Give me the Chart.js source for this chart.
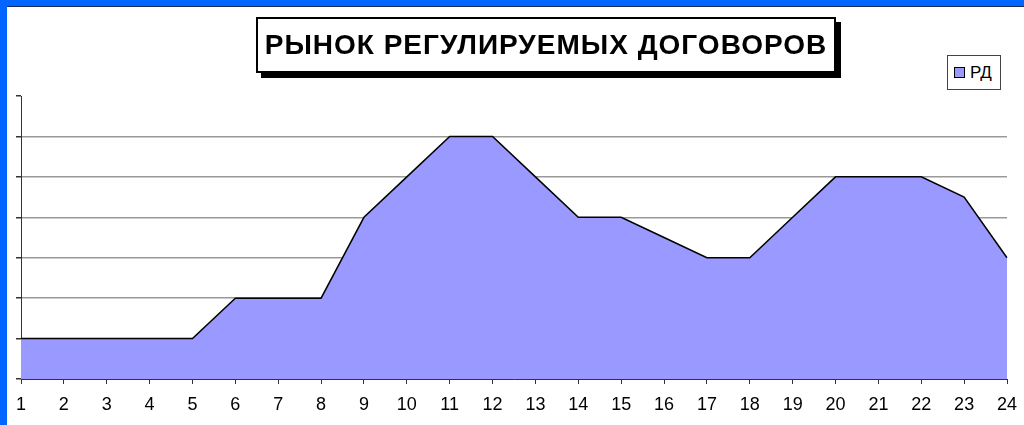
<!DOCTYPE html>
<html>
<head>
<meta charset="utf-8">
<script src="https://cdn.jsdelivr.net/npm/chart.js@4/dist/chart.umd.min.js"></script>
<style>
    body { margin: 0; background: #fff; }
    #frame {
        position: absolute; left: 0; top: 0; width: 1017px; height: 419px;
        border-top: 6px solid #0066ff; border-left: 7px solid #0066ff;
        background: #fff;
    }
    #frame::before {
        content: ''; position: absolute; left: 0; top: 0; right: 0; height: 1px; background: #1a2a60;
    }
    #box { position: absolute; left: 0; top: 0; width: 1017px; height: 419px; }
    #title {
        position: absolute; left: 256px; top: 17px; width: 576px; height: 52px;
        border: 2px solid #000; box-shadow: 5px 5px 0 #000; background: #fff;
        font: bold 28px "Liberation Sans", Arial, sans-serif; line-height: 52px;
        letter-spacing: 1px; text-align: center; color: #000;
    }
    #legend {
        position: absolute; left: 947px; top: 55px; width: 52px; height: 33px;
        border: 1px solid #444; background: #fff;
        font: 17px "Liberation Sans", Arial, sans-serif; line-height: 33px; color: #000;
    }
    #legend span.sw {
        position: absolute; left: 6px; top: 11px; width: 9px; height: 9px;
        background: #9999ff; border: 1px solid #000;
    }
    #legend span.tx { position: absolute; left: 22px; top: 0; }
</style>
</head>
<body>
<div id="frame"><div id="box"><canvas id="chart"></canvas></div></div>
<div id="title">РЫНОК РЕГУЛИРУЕМЫХ ДОГОВОРОВ</div>
<div id="legend"><span class="sw"></span><span class="tx">РД</span></div>
<script>
// Hours of the day and the regulated contracts series
const hours = ['1', '2', '3', '4', '5', '6', '7', '8', '9', '10', '11', '12',
    '13', '14', '15', '16', '17', '18', '19', '20', '21', '22', '23', '24'];
const rdValues = [1, 1, 1, 1, 1, 2, 2, 2, 4, 5, 6, 6, 5, 4, 4, 3.5, 3, 3, 4, 5, 5, 5, 4.5, 3];
const yMax = 7;

const ctx = document.getElementById('chart').getContext('2d');

new Chart(ctx, {
    type: 'line',
    data: {
        labels: hours,
        datasets: [{
            label: 'РД',
            data: rdValues,
            fill: 'origin',
            backgroundColor: '#9999ff',
            borderColor: '#000',
            borderWidth: 1.5,
            pointRadius: 0,
            tension: 0,
        }],
    },
    options: {
        responsive: true,
        maintainAspectRatio: false,
        animation: false,
        layout: { padding: { left: 0, top: 90, right: 17, bottom: 0 } },
        plugins: {
            legend: { display: false },
            tooltip: { enabled: false },
        },
        scales: {
            x: {
                offset: false,
                grid: { drawOnChartArea: false, drawTicks: true, tickLength: 5, tickColor: '#333' },
                border: { display: true, color: '#333', width: 1 },
                ticks: {
                    color: '#000',
                    padding: 10,
                    maxRotation: 0,
                    autoSkip: false,
                    font: { family: '"Liberation Sans", Arial, sans-serif', size: 18 },
                },
                afterFit: scale => {
                    scale.height = 46;
                    // let the end labels hang over the edges like in the original
                    scale.paddingLeft = 0;
                    scale.paddingRight = 0;
                },
            },
            y: {
                min: 0,
                max: yMax,
                ticks: { stepSize: 1, display: false },
                grid: {
                    color: c => (c.tick && c.tick.value === yMax) ? 'rgba(0,0,0,0)' : '#999',
                    lineWidth: 1.5,
                    tickLength: 5,
                    tickColor: '#333',
                },
                border: { display: true, color: '#333', width: 1 },
                afterFit: scale => { scale.width = 14; },
            },
        },
    },
});
</script>
</body>
</html>
